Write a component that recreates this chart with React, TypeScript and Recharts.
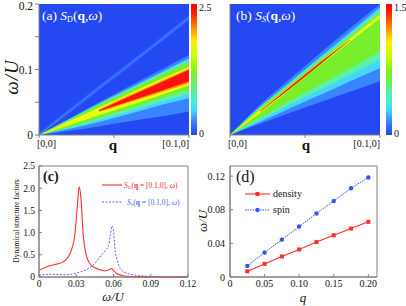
import { Area, Bar, BarChart, CartesianGrid, ComposedChart, Line, ReferenceArea, XAxis, YAxis } from "recharts";

const SERIF = "'Liberation Serif', 'Times New Roman', serif";
const AXIS = "#808080";
const INK = "#151515";
const BG = "#2449f2";
const HEAT = { halo: "#3b84ff", cyan: "#44d6ff", mint: "#5cf0a8", green: "#78ee2c", yellow: "#e6ff12", orange: "#ff9800", red: "#ff1212" };
const RED = "#ff2d2d";
const BLUE = "#3355ff";

// (a), (b): momentum cut from [0,0] to [0.1,0]
const qGrid = [0, 0.02, 0.04, 0.06, 0.08, 0.1];

// (a) S_D(q,w): band edges in w/U, outer halo -> red core
const aHaloLo = [0, 0.006, 0.013, 0.021, 0.028, 0.036];
const aHaloHi = [0, 0.025, 0.05, 0.074, 0.098, 0.122];
const aCyanLo = [0, 0.009, 0.02, 0.032, 0.045, 0.056];
const aCyanHi = [0, 0.024, 0.048, 0.071, 0.094, 0.117];
const aMintLo = [0, 0.0105, 0.023, 0.036, 0.05, 0.0625];
const aMintHi = [0, 0.0235, 0.047, 0.0695, 0.092, 0.1145];
const aGreenLo = [0, 0.012, 0.026, 0.04, 0.055, 0.069];
const aGreenHi = [0, 0.023, 0.046, 0.068, 0.09, 0.112];
const aYellowLo = [0, 0.015, 0.03, 0.045, 0.06, 0.076];
const aYellowHi = [0, 0.021, 0.042, 0.063, 0.084, 0.104];
const aOrangeLo = [null, null, 0.035, 0.0495, 0.064, 0.079];
const aOrangeHi = [null, null, 0.039, 0.0605, 0.081, 0.1015];
const aRedLo = [null, null, 0.0365, 0.0516, 0.0666, 0.0816];
const aRedHi = [null, null, 0.0377, 0.0583, 0.0789, 0.0995];
const aFaint = [0, 0.036, 0.072, 0.107, 0.143, 0.179];

// (b) S_S(q,w)
const bHaloLo = [0, 0.017, 0.034, 0.05, 0.066, 0.082];
const bHaloHi = [0, 0.046, 0.086, 0.125, 0.163, 0.2];
const bCyanLo = [0, 0.02, 0.041, 0.061, 0.082, 0.102];
const bCyanHi = [0, 0.043, 0.081, 0.119, 0.157, 0.195];
const bMintLo = [0, 0.023, 0.0465, 0.069, 0.092, 0.115];
const bMintHi = [0, 0.042, 0.079, 0.1165, 0.1535, 0.191];
const bGreenLo = [0, 0.026, 0.052, 0.077, 0.102, 0.128];
const bGreenHi = [0, 0.041, 0.077, 0.114, 0.15, 0.187];
const bYellowLo = [0, 0.0335, 0.0695, 0.1065, 0.1425, 0.178];
const bYellowHi = [0, 0.0385, 0.0745, 0.1115, 0.1475, 0.184];
const bRedLo = [null, 0.0355, 0.0705, 0.1075, 0.1445, null];
const bRedHi = [null, 0.0365, 0.0737, 0.1105, 0.1455, null];

const wTicksHeat = [0, 0.05, 0.1, 0.15, 0.2];
const cbMaxD = 2.5;
const cbMaxS = 1.5;

// (c) line cuts at q = [0.1,0]
const wD = [0, 0.004, 0.009, 0.014, 0.0195, 0.0235, 0.026, 0.029, 0.031, 0.0323, 0.0337, 0.0355, 0.0377, 0.041, 0.045, 0.049, 0.053, 0.0564, 0.0585, 0.0605, 0.0636, 0.069, 0.0757, 0.089, 0.105, 0.12];
const sD = [0.15, 0.2, 0.26, 0.29, 0.34, 0.45, 0.6, 0.98, 1.65, 2.03, 1.8, 0.98, 0.53, 0.3, 0.21, 0.165, 0.135, 0.165, 0.19, 0.13, 0.06, 0.022, 0.008, 0.002, 0, 0];
const wS = [0, 0.009, 0.022, 0.03, 0.0356, 0.041, 0.046, 0.05, 0.0537, 0.056, 0.0575, 0.0588, 0.06, 0.061, 0.063, 0.0655, 0.0703, 0.078, 0.089, 0.1, 0.12];
const sS = [0.04, 0.06, 0.05, 0.09, 0.135, 0.21, 0.34, 0.49, 0.6, 0.71, 0.94, 1.15, 1.05, 0.68, 0.38, 0.19, 0.09, 0.04, 0.015, 0.005, 0];
const cTicksX = [0, 0.03, 0.06, 0.09, 0.12];
const cTicksY = [0, 0.5, 1, 1.5, 2, 2.5];

// (d) peak positions
const qPts = [0.025, 0.05, 0.075, 0.1, 0.125, 0.15, 0.175, 0.2];
const density = [0.0068, 0.0156, 0.0244, 0.0328, 0.0416, 0.0496, 0.0576, 0.0656];
const spin = [0.0132, 0.0292, 0.0444, 0.06, 0.0756, 0.0904, 0.1056, 0.1184];
const dTicksX = [0, 0.05, 0.1, 0.15, 0.2];
const dTicksY = [0, 0.04, 0.08, 0.12];

const CB_STOPS = [
  [0, "#ff0000"], [0.06, "#ff1a00"], [0.18, "#ff8a00"], [0.29, "#fff000"], [0.4, "#c8ff00"],
  [0.52, "#80f020"], [0.65, "#5cf08c"], [0.75, "#40f0e0"], [0.82, "#40d0ff"], [0.9, "#3a80ff"], [1, "#2244f0"],
];

const band = (lo: (number | null)[], hi: (number | null)[], i: number) =>
  lo[i] == null ? null : [lo[i], hi[i]];

const rowsA = qGrid.map((q, i) => ({
  q,
  halo: band(aHaloLo, aHaloHi, i),
  cyan: band(aCyanLo, aCyanHi, i),
  mint: band(aMintLo, aMintHi, i),
  green: band(aGreenLo, aGreenHi, i),
  yellow: band(aYellowLo, aYellowHi, i),
  orange: band(aOrangeLo, aOrangeHi, i),
  red: band(aRedLo, aRedHi, i),
  faint: aFaint[i],
  faintGlow: [Math.max(0, aFaint[i] - 0.004), aFaint[i] + 0.004],
}));

const rowsB = qGrid.map((q, i) => ({
  q,
  halo: band(bHaloLo, bHaloHi, i),
  cyan: band(bCyanLo, bCyanHi, i),
  mint: band(bMintLo, bMintHi, i),
  green: band(bGreenLo, bGreenHi, i),
  yellow: band(bYellowLo, bYellowHi, i),
  red: band(bRedLo, bRedHi, i),
}));

const rowsSD = wD.map((w, i) => ({ w, s: sD[i] }));
const rowsSS = wS.map((w, i) => ({ w, s: sS[i] }));
const rowsQ = qPts.map((q, i) => ({ q, density: density[i], spin: spin[i] }));

function QTick({ x, y, payload }: any) {
  const v = payload.value;
  if (v !== 0 && v !== 0.1) return <g />;
  return (
    <text x={v === 0 ? x - 2 : x} y={y} dy="0.71em" textAnchor={v === 0 ? "start" : "end"} fontSize={10} fontFamily={SERIF} fill={INK}>
      {v === 0 ? "[0,0]" : "[0.1,0]"}
    </text>
  );
}

function HeatYTick({ x, y, payload }: any) {
  const v = payload.value;
  const txt = v === 0 ? "0" : Math.abs(v - 0.1) < 1e-9 ? "0.1" : Math.abs(v - 0.2) < 1e-9 ? "0.2" : "";
  if (!txt) return <g />;
  return (
    <text x={x} y={y + (v > 0.15 ? 2 : 0)} dy="0.355em" textAnchor="end" fontSize={11.5} fontFamily={SERIF} fill={INK}>
      {txt}
    </text>
  );
}

function CbTick({ x, y, payload }: any) {
  const top = payload.value > 0;
  return (
    <text x={x} y={y + (top ? 3 : -2)} dy="0.355em" textAnchor="start" fontSize={10} fontFamily={SERIF} fill={INK}>
      {payload.value === 0 ? "0" : payload.value.toFixed(1)}
    </text>
  );
}

function heatBands(keys: string[]) {
  return keys.map((k) => (
    <Area key={k} type="monotone" dataKey={k} stroke="none" fill={(HEAT as any)[k]} fillOpacity={1}
      isAnimationActive={false} dot={false} activeDot={false} connectNulls={false} />
  ));
}

function ColorBar({ id, max, left, width }: { id: string; max: number; left: number; width: number }) {
  return (
    <div style={{ position: "absolute", left, top: 0 }}>
      <BarChart width={width} height={140} data={[{ k: "c", v: max }]} margin={{ top: 4, right: 0, bottom: 5, left: 0 }} barCategoryGap={0}>
        <defs>
          <linearGradient id={id} x1="0" y1="0" x2="0" y2="1">
            {CB_STOPS.map(([o, c]) => <stop key={String(o)} offset={o as number} stopColor={c as string} />)}
          </linearGradient>
        </defs>
        <XAxis dataKey="k" hide />
        <YAxis orientation="right" type="number" domain={[0, max]} ticks={[0, max]} width={width - 6}
          axisLine={false} tickLine={false} tickSize={0} tickMargin={2} tick={<CbTick />} interval={0} />
        <Bar dataKey="v" fill={`url(#${id})`} isAnimationActive={false} />
      </BarChart>
    </div>
  );
}

const tickStyle = { fontSize: 9.5, fontFamily: SERIF, fill: INK };

export default function App() {
  return (
    <div style={{ position: "absolute", left: 0, top: 0, width: 406, height: 306, background: "#fff", overflow: "hidden" }}>
      {/* (a) density structure factor */}
      <div style={{ position: "absolute", left: 0, top: 0 }}>
        <ComposedChart width={200} height={160} data={rowsA} margin={{ top: 4, right: 11, bottom: 0, left: 0 }}>
          <CartesianGrid fill={BG} horizontal={false} vertical={false} />
          <XAxis dataKey="q" type="number" domain={[0, 0.1]} ticks={[0, 0.05, 0.1]} height={25} tickSize={3}
            stroke={AXIS} tick={<QTick />} interval={0} />
          <YAxis type="number" domain={[0, 0.2]} ticks={wTicksHeat} width={39} tickSize={4} stroke={AXIS}
            tick={<HeatYTick />} interval={0} />
          <Area type="linear" dataKey="faintGlow" stroke="none" fill="#2c5cfa" fillOpacity={1} isAnimationActive={false} dot={false} activeDot={false} />
          <Line type="linear" dataKey="faint" stroke="#4486ff" strokeWidth={1.1} dot={false} activeDot={false} isAnimationActive={false} />
          {heatBands(["halo", "cyan", "mint", "green", "yellow", "orange", "red"])}
        </ComposedChart>
      </div>
      <ColorBar id="cbD" max={cbMaxD} left={191} width={24} />

      {/* (b) spin structure factor */}
      <div style={{ position: "absolute", left: 205, top: 0 }}>
        <ComposedChart width={180} height={160} data={rowsB} margin={{ top: 4, right: 5, bottom: 0, left: 0 }}>
          <CartesianGrid fill={BG} horizontal={false} vertical={false} />
          <XAxis dataKey="q" type="number" domain={[0, 0.1]} ticks={[0, 0.05, 0.1]} height={25} tickSize={3}
            stroke={AXIS} tick={<QTick />} interval={0} />
          <YAxis type="number" domain={[0, 0.2]} ticks={wTicksHeat} width={25} tickSize={4} stroke={AXIS} tick={false} interval={0} />
          {heatBands(["halo", "cyan", "mint", "green", "yellow", "red"])}
        </ComposedChart>
      </div>
      <ColorBar id="cbS" max={cbMaxS} left={386} width={20} />

      {/* (c) cuts at q = [0.1,0] */}
      <div style={{ position: "absolute", left: 0, top: 155 }}>
        <ComposedChart width={200} height={151} margin={{ top: 11, right: 12, bottom: 0, left: 0 }}>
          <XAxis dataKey="w" type="number" domain={[0, 0.12]} ticks={cTicksX} height={29} tickSize={-3} tickMargin={6}
            stroke={AXIS} tick={tickStyle} interval={0} allowDataOverflow
            tickFormatter={(v: number) => (v === 0 ? "0" : v.toFixed(2))} />
          <YAxis type="number" domain={[0, 2.5]} ticks={cTicksY} width={39} tickSize={-3} tickMargin={7}
            stroke={AXIS} tick={tickStyle} interval={0} tickFormatter={(v: number) => (v === 0 ? "0" : v.toFixed(1))} />
          <ReferenceArea x1={0} x2={0.12} y1={0} y2={2.5} fill="none" stroke={AXIS} />
          <Line data={rowsSS} type="monotone" dataKey="s" stroke="#4a6cff" strokeWidth={1} strokeDasharray="2 1.5"
            dot={false} activeDot={false} isAnimationActive={false} />
          <Line data={rowsSD} type="monotone" dataKey="s" stroke={RED} strokeWidth={1.1}
            dot={false} activeDot={false} isAnimationActive={false} />
        </ComposedChart>
      </div>

      {/* (d) mode energies */}
      <div style={{ position: "absolute", left: 200, top: 155 }}>
        <ComposedChart width={206} height={151} data={rowsQ} margin={{ top: 11, right: 29, bottom: 0, left: 0 }}>
          <XAxis dataKey="q" type="number" domain={[0, 0.2125]} ticks={dTicksX} height={29} tickSize={-3} tickMargin={6}
            stroke={AXIS} tick={{ ...tickStyle, fontSize: 10 }} interval={0} allowDataOverflow
            tickFormatter={(v: number) => (v === 0 ? "0" : v.toFixed(2))} />
          <YAxis type="number" domain={[0, 0.132]} ticks={dTicksY} width={30} tickSize={-3} tickMargin={8}
            stroke={AXIS} tick={{ ...tickStyle, fontSize: 10 }} interval={0} allowDataOverflow
            tickFormatter={(v: number) => (v === 0 ? "0" : v.toFixed(2))} />
          <ReferenceArea x1={0} x2={0.2125} y1={0} y2={0.132} fill="none" stroke={AXIS} />
          <Line type="linear" dataKey="spin" stroke={BLUE} strokeWidth={1} strokeDasharray="1.5 1"
            dot={{ r: 2.2, fill: BLUE, stroke: "none" }} activeDot={false} isAnimationActive={false} />
          <Line type="linear" dataKey="density" stroke={RED} strokeWidth={1.1} activeDot={false} isAnimationActive={false}
            dot={(p: any) => <rect key={p.index} x={p.cx - 2} y={p.cy - 2} width={4} height={4} fill={RED} />} />
        </ComposedChart>
      </div>

      {/* labels, titles and legends */}
      <svg width={406} height={306} style={{ position: "absolute", left: 0, top: 0, pointerEvents: "none" }} fontFamily={SERIF}>
        <text transform="translate(18,77) rotate(-90)" textAnchor="middle" fontSize={19} fontStyle="italic" fill={INK} letterSpacing={1}>ω/U</text>
        <text x={113} y={150} textAnchor="middle" fontSize={15} fontWeight="bold" fill={INK}>q</text>
        <text x={306} y={150} textAnchor="middle" fontSize={15} fontWeight="bold" fill={INK}>q</text>
        <text x={42} y={20} fontSize={13.5} fill="#fff">
          (a) <tspan fontStyle="italic">S</tspan><tspan fontSize={8} dy={2}>D</tspan><tspan dy={-2}>(</tspan>
          <tspan fontWeight="bold">q</tspan>,<tspan fontStyle="italic">ω</tspan>)
        </text>
        <text x={236} y={20} fontSize={13.5} fill="#fff">
          (b) <tspan fontStyle="italic">S</tspan><tspan fontSize={8} dy={2} fontStyle="italic">S</tspan><tspan dy={-2}>(</tspan>
          <tspan fontWeight="bold">q</tspan>,<tspan fontStyle="italic">ω</tspan>)
        </text>

        <text transform="translate(19,221) rotate(-90)" textAnchor="middle" fontSize={7.5} fill={INK}>Dynamical structure factors</text>
        <text x={43} y={181} fontSize={14} fontWeight="bold" fill={INK}>(c)</text>
        <text x={113} y={301} textAnchor="middle" fontSize={12.5} fontStyle="italic" fill={INK}>ω/U</text>
        <line x1={102} x2={122} y1={185} y2={185} stroke={RED} strokeWidth={1.1} />
        <text x={124} y={187.5} fontSize={7.5} fill={RED}>
          <tspan fontStyle="italic">S</tspan><tspan fontSize={5} dy={1.5}>D</tspan><tspan dy={-1.5}>(</tspan>
          <tspan fontWeight="bold">q</tspan> = [0.1,0], <tspan fontStyle="italic">ω</tspan>)
        </text>
        <line x1={102} x2={122} y1={202} y2={202} stroke="#4a6cff" strokeWidth={1} strokeDasharray="2 1.5" />
        <text x={127} y={204.5} fontSize={7.5} fill="#4a6cff">
          <tspan fontStyle="italic">S</tspan><tspan fontSize={5} dy={1.5} fontStyle="italic">S</tspan><tspan dy={-1.5}>(</tspan>
          <tspan fontWeight="bold">q</tspan> = [0.1,0], <tspan fontStyle="italic">ω</tspan>)
        </text>

        <text x={236} y={182} fontSize={16} fill={INK}>(d)</text>
        <text transform="translate(207,221) rotate(-90)" textAnchor="middle" fontSize={13} fontStyle="italic" fill={INK}>ω/U</text>
        <text x={303} y={302} textAnchor="middle" fontSize={13} fontStyle="italic" fill={INK}>q</text>
        <line x1={245} x2={270} y1={194} y2={194} stroke={RED} strokeWidth={1.1} />
        <rect x={255.5} y={192} width={4} height={4} fill={RED} />
        <text x={273} y={197} fontSize={10} fill={INK}>density</text>
        <line x1={245} x2={270} y1={210} y2={210} stroke={BLUE} strokeWidth={1} strokeDasharray="1.5 1" />
        <circle cx={257.5} cy={210} r={2.2} fill={BLUE} />
        <text x={273} y={213} fontSize={10} fill={INK}>spin</text>
      </svg>
    </div>
  );
}
